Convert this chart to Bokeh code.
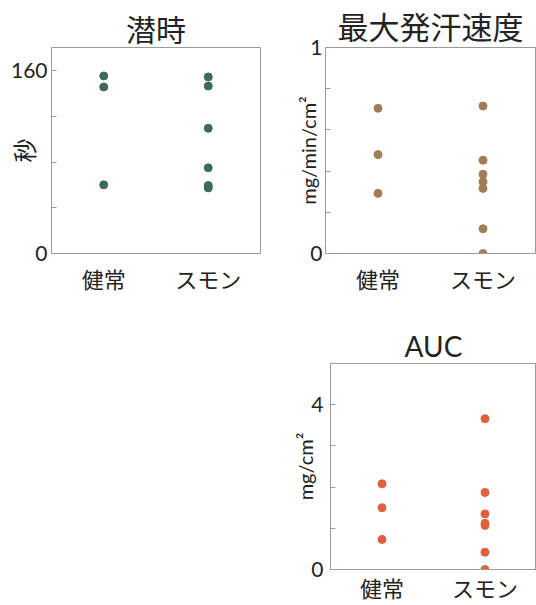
from bokeh.plotting import figure
from bokeh.layouts import column, row
from bokeh.models import FactorRange, Range1d, FixedTicker, Spacer, Title
from bokeh.embed import file_html
from bokeh.resources import INLINE

groups = ["健常", "スモン"]

latency_healthy = [155.7, 146.0, 60.2]
latency_smon = [154.8, 146.8, 109.8, 75.1, 59.6, 57.5]

rate_healthy = [0.705, 0.48, 0.292]
rate_smon = [0.716, 0.453, 0.385, 0.348, 0.316, 0.12, 0.0]

auc_healthy = [2.08, 1.5, 0.73]
auc_smon = [3.66, 1.87, 1.35, 1.12, 1.07, 0.42, 0.0]

titles = ["潜時", "最大発汗速度", "AUC"]
ylabels = ["秒", "mg/min/cm²", "mg/cm²"]

JP = "Noto Sans CJK JP"
LAT = "Lato"
INK = "#232323"
FRAME = "#9a9a9a"


def make(title, ylabel, healthy, smon, ymax, ticks, labeled, color,
         w, h, bl, br, bt, bb, ylab_font, ylab_size, ylab_standoff, tick_standoff,
         title_font, title_size, title_standoff, x_standoff):
    p = figure(width=w, height=h, x_range=FactorRange(*groups, range_padding=0),
               y_range=Range1d(0, ymax), output_backend="svg",
               toolbar_location=None, min_border_left=bl, min_border_right=br,
               min_border_top=bt, min_border_bottom=bb)
    p.title = Title(text=title, align="center", text_font=title_font,
                    text_font_size=title_size, text_font_style="normal",
                    text_color=INK, standoff=title_standoff, offset=0)
    xs = [groups[0]] * len(healthy) + [groups[1]] * len(smon)
    ys = list(healthy) + list(smon)
    p.scatter(xs, ys, size=8, color=color, line_color=color)
    p.grid.visible = False
    p.outline_line_color = FRAME
    p.outline_line_width = 1
    p.background_fill_color = "white"
    p.border_fill_color = "white"

    ya = p.yaxis[0]
    ya.ticker = FixedTicker(ticks=ticks)
    ya.major_label_overrides = {tk: ("%g" % tk if tk in labeled else "") for tk in ticks}
    ya.major_tick_in = 5
    ya.major_tick_out = 0
    ya.minor_tick_line_color = None
    ya.axis_line_color = FRAME
    ya.major_tick_line_color = FRAME
    ya.major_label_text_font = LAT
    ya.major_label_text_font_size = "21px"
    ya.major_label_text_color = INK
    ya.major_label_standoff = tick_standoff
    ya.axis_label = ylabel
    ya.axis_label_text_font = ylab_font
    ya.axis_label_text_font_size = ylab_size
    ya.axis_label_text_font_style = "normal"
    ya.axis_label_text_color = INK
    ya.axis_label_standoff = ylab_standoff

    xa = p.xaxis[0]
    xa.major_tick_line_color = None
    xa.minor_tick_line_color = None
    xa.axis_line_color = FRAME
    xa.major_label_text_font = JP
    xa.major_label_text_font_size = "22px"
    xa.major_label_text_color = INK
    xa.major_label_standoff = x_standoff
    return p


p1 = make(titles[0], ylabels[0], latency_healthy, latency_smon, 180.6,
          [0, 40, 80, 120, 160], [0, 160], "#3d6b5a",
          268, 300, 51, 8, 43, 47, JP, "24px", -33, 4, JP, "30px", -4, 2)
p2 = make(titles[1], ylabels[1], rate_healthy, rate_smon, 1.0,
          [0, 0.2, 0.4, 0.6, 0.8, 1.0], [0, 1.0], "#a07d55",
          268, 300, 57, 1, 47, 45, LAT, "20px", -13, 3, JP, "31px", 0, 2)
p3 = make(titles[2], ylabels[2], auc_healthy, auc_smon, 5.0,
          [0, 1, 2, 3, 4, 5], [0, 4], "#e0603a",
          268, 305, 62, 0, 63, 33, LAT, "20px", -9, 7, LAT, "28px", 2, -5)

layout = column(row(p1, p2), row(Spacer(width=268, height=305), p3))

open("out.html", "w").write(file_html(layout, INLINE))
